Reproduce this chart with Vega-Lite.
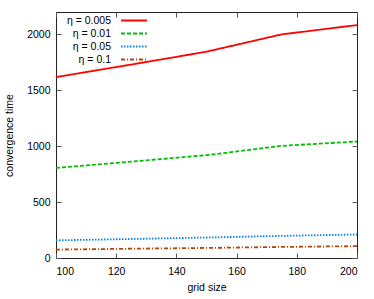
{
  "$schema": "https://vega.github.io/schema/vega-lite/v6.json",
  "width": 301,
  "height": 246,
  "autosize": "none",
  "padding": {"left": 56, "top": 12, "right": 17, "bottom": 41},
  "background": "white",
  "config": {
    "view": {"stroke": "#222", "strokeWidth": 1},
    "font": "Liberation Sans",
    "axis": {
      "grid": false,
      "domain": false,
      "tickSize": -5,
      "tickColor": "#555",
      "labelFont": "Liberation Sans",
      "labelFontSize": 10.5,
      "labelColor": "black",
      "titleFont": "Liberation Sans",
      "titleFontSize": 10.5,
      "titleFontWeight": "normal",
      "titleColor": "black"
    }
  },
  "data": {
    "values": [
      {"grid": 100, "eta": "η = 0.005", "time": 1618},
      {"grid": 125, "eta": "η = 0.005", "time": 1730},
      {"grid": 150, "eta": "η = 0.005", "time": 1845},
      {"grid": 175, "eta": "η = 0.005", "time": 2000},
      {"grid": 200, "eta": "η = 0.005", "time": 2083},
      {"grid": 100, "eta": "η = 0.01", "time": 806},
      {"grid": 125, "eta": "η = 0.01", "time": 862},
      {"grid": 150, "eta": "η = 0.01", "time": 920},
      {"grid": 175, "eta": "η = 0.01", "time": 1003},
      {"grid": 200, "eta": "η = 0.01", "time": 1042},
      {"grid": 100, "eta": "η = 0.05", "time": 158},
      {"grid": 125, "eta": "η = 0.05", "time": 170},
      {"grid": 150, "eta": "η = 0.05", "time": 183},
      {"grid": 175, "eta": "η = 0.05", "time": 198},
      {"grid": 200, "eta": "η = 0.05", "time": 210},
      {"grid": 100, "eta": "η = 0.1", "time": 75},
      {"grid": 125, "eta": "η = 0.1", "time": 83},
      {"grid": 150, "eta": "η = 0.1", "time": 90},
      {"grid": 175, "eta": "η = 0.1", "time": 99},
      {"grid": 200, "eta": "η = 0.1", "time": 106}
    ]
  },
  "layer": [
    {
      "mark": {"type": "line", "strokeWidth": 1.8},
      "encoding": {
        "x": {"field": "grid", "type": "quantitative", "scale": {"domain": [100, 200], "nice": false},
              "axis": {"orient": "bottom", "title": "grid size", "values": [100, 120, 140, 160, 180, 200], "labelPadding": 13, "titlePadding": 6}},
        "y": {"field": "time", "type": "quantitative", "scale": {"domain": [0, 2200], "nice": false},
              "axis": {"orient": "left", "title": "convergence time", "values": [0, 500, 1000, 1500, 2000], "format": "d", "labelPadding": 11, "titlePadding": 12}},
        "color": {"field": "eta", "type": "nominal",
                  "scale": {"domain": ["η = 0.005", "η = 0.01", "η = 0.05", "η = 0.1"], "range": ["#ff0000", "#00c000", "#0080ff", "#c04000"]},
                  "legend": {"orient": "none", "legendX": -1, "legendY": 1, "title": null, "symbolType": "M9,0H13", "symbolSize": 169, "symbolStrokeWidth": 2, "labelAlign": "right", "labelBaseline": "middle", "labelOffset": 41, "labelFontSize": 10.5, "labelFont": "Liberation Sans", "rowPadding": -1.5, "padding": 0}},
        "strokeDash": {"field": "eta", "type": "nominal",
                  "scale": {"domain": ["η = 0.005", "η = 0.01", "η = 0.05", "η = 0.1"], "range": [[1, 0], [4, 2], [1.5, 1.5], [4, 2, 1, 2]]},
                  "legend": {"orient": "none", "legendX": -1, "legendY": 1, "title": null, "symbolType": "M9,0H13", "symbolSize": 169, "symbolStrokeWidth": 2, "labelAlign": "right", "labelBaseline": "middle", "labelOffset": 41, "labelFontSize": 10.5, "labelFont": "Liberation Sans", "rowPadding": -1.5, "padding": 0}}
      }
    },
    {
      "mark": {"type": "line", "opacity": 0},
      "encoding": {
        "x": {"field": "grid", "type": "quantitative", "scale": {"domain": [100, 200], "nice": false},
              "axis": {"orient": "top", "title": null, "labels": false, "values": [100, 120, 140, 160, 180, 200]}},
        "y": {"field": "time", "type": "quantitative", "scale": {"domain": [0, 2200], "nice": false},
              "axis": {"orient": "right", "title": null, "labels": false, "values": [0, 500, 1000, 1500, 2000]}},
        "detail": {"field": "eta", "type": "nominal"}
      }
    }
  ],
  "resolve": {"axis": {"x": "independent", "y": "independent"}}
}
